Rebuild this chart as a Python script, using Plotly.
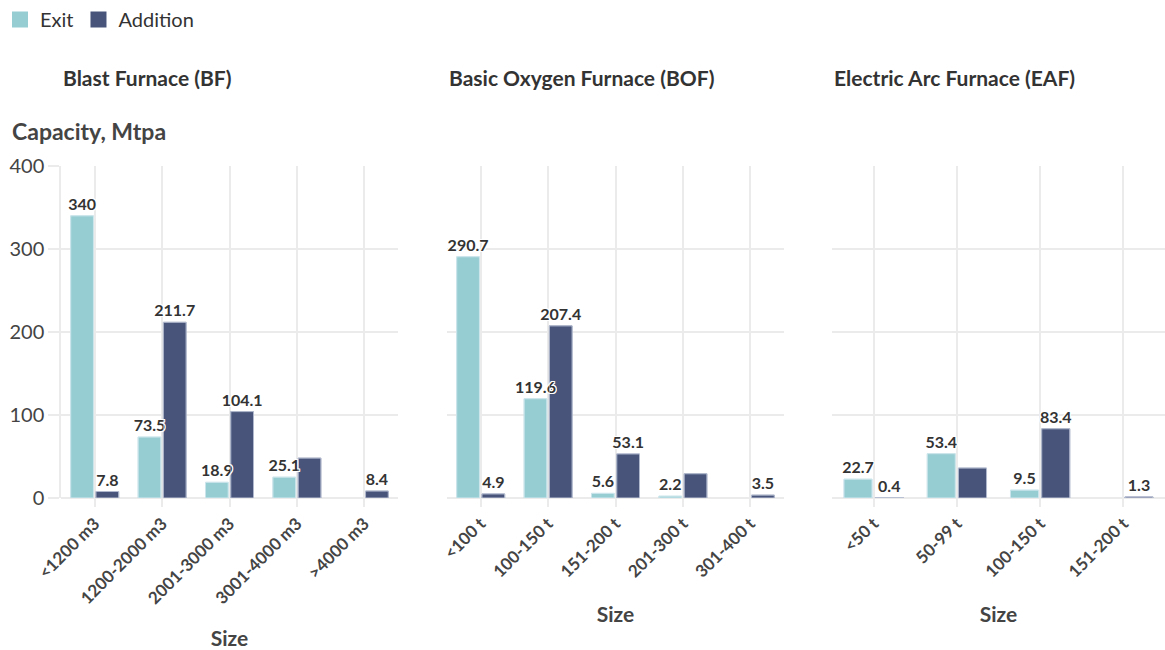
import plotly.graph_objects as go
from plotly.subplots import make_subplots

# ---- data ----
bf_sizes = ["<1200 m3", "1200-2000 m3", "2001-3000 m3", "3001-4000 m3", ">4000 m3"]
bf_exit = [340, 73.5, 18.9, 25.1, None]
bf_add = [7.8, 211.7, 104.1, 48.1, 8.4]
bf_add_label = [True, True, True, False, True]

bof_sizes = ["<100 t", "100-150 t", "151-200 t", "201-300 t", "301-400 t"]
bof_exit = [290.7, 119.6, 5.6, 2.2, None]
bof_add = [4.9, 207.4, 53.1, 29.2, 3.5]
bof_add_label = [True, True, True, False, True]

eaf_sizes = ["<50 t", "50-99 t", "100-150 t", "151-200 t"]
eaf_exit = [22.7, 53.4, 9.5, None]
eaf_add = [0.4, 36.1, 83.4, 1.3]
eaf_add_label = [True, False, True, True]

titles = ["Blast Furnace (BF)", "Basic Oxygen Furnace (BOF)", "Electric Arc Furnace (EAF)"]

EXIT_C = "#96CDD3"
EXIT_EDGE = "#B3DCE0"
ADD_C = "#48547A"
ADD_EDGE = "#7A83A3"
GRID = "#EBEBEB"
TXT = "#333333"
FONT = "Lato, 'Source Sans Pro', sans-serif"
HALO = ("-1px -1px 0 #fff, 1px -1px 0 #fff, -1px 1px 0 #fff, 1px 1px 0 #fff, "
        "0 -1px 0 #fff, 0 1px 0 #fff, -1px 0 0 #fff, 1px 0 0 #fff")


def labels(vals, mask=None):
    out = []
    for i, v in enumerate(vals):
        if v is None or (mask is not None and not mask[i]):
            out.append("")
        else:
            out.append(f"{v:g}")
    return out


fig = make_subplots(rows=1, cols=3, shared_yaxes=False, horizontal_spacing=0.04)

panels = [
    (bf_sizes, bf_exit, bf_add, bf_add_label),
    (bof_sizes, bof_exit, bof_add, bof_add_label),
    (eaf_sizes, eaf_exit, eaf_add, eaf_add_label),
]

label_font = dict(family=FONT, size=16, color=TXT, weight="bold", shadow=HALO)

for i, (cats, ex, ad, admask) in enumerate(panels):
    col = i + 1
    # bars
    fig.add_trace(go.Bar(
        x=cats, y=ex, name="Exit", offsetgroup="exit",
        marker=dict(color=EXIT_C, line=dict(color=EXIT_EDGE, width=1)),
        showlegend=False, hoverinfo="x+y"), row=1, col=col)
    fig.add_trace(go.Bar(
        x=cats, y=ad, name="Addition", offsetgroup="add",
        marker=dict(color=ADD_C, line=dict(color=ADD_EDGE, width=1)),
        showlegend=False, hoverinfo="x+y"), row=1, col=col)
    # value labels, drawn on top of all bars
    fig.add_trace(go.Bar(
        x=cats, y=ex, offsetgroup="exit", marker=dict(color="rgba(0,0,0,0)"),
        text=labels(ex), textposition="outside", cliponaxis=False, constraintext="none",
        textfont=label_font, showlegend=False, hoverinfo="skip"), row=1, col=col)
    fig.add_trace(go.Bar(
        x=cats, y=ad, offsetgroup="add", marker=dict(color="rgba(0,0,0,0)"),
        text=labels(ad, admask), textposition="outside", cliponaxis=False, constraintext="none",
        textfont=label_font, showlegend=False, hoverinfo="skip"), row=1, col=col)

# legend entries
for name, c in [("Exit", EXIT_C), ("Addition", ADD_C)]:
    fig.add_trace(go.Scatter(
        x=[None], y=[None], mode="markers", name=name,
        marker=dict(symbol="square", size=17, color=c)), row=1, col=1)

L, R, T, B = 61, 0, 166, 152
W, H = 1165, 650
pw = W - L - R
domains = [(0, 337 / pw), ((447 - L) / pw, (784 - L) / pw), ((832 - L) / pw, 1.0)]

for i in range(3):
    xa = "xaxis" if i == 0 else f"xaxis{i+1}"
    ya = "yaxis" if i == 0 else f"yaxis{i+1}"
    fig.layout[xa].update(
        domain=list(domains[i]), showgrid=True, gridcolor=GRID, gridwidth=1.5,
        ticks="outside", ticklen=8, tickcolor=GRID, tickwidth=1.5, tickangle=-45,
        tickfont=dict(family=FONT, size=17, color="#444444", weight="bold"),
        title=dict(text="Size", font=dict(family=FONT, size=21, color="#444444", weight="bold"), standoff=26),
        showline=False, zeroline=False)
    fig.layout[ya].update(
        range=[0, 400], dtick=100, showgrid=True, gridcolor=GRID, gridwidth=1.5,
        zeroline=True, zerolinecolor=GRID, zerolinewidth=1.5,
        showticklabels=(i == 0),
        ticks="outside" if i == 0 else "", ticklen=11, tickcolor=GRID, tickwidth=1.5,
        tickfont=dict(family=FONT, size=20, color="#444444"),
        showline=(i == 0), linecolor=GRID, linewidth=1.5)
    fig.add_annotation(
        text=titles[i], xref=f"x{'' if i == 0 else i+1} domain", yref="paper",
        x=0, y=(H - B - 77) / (H - T - B), xanchor="left", yanchor="middle", showarrow=False,
        font=dict(family=FONT, size=21, color="#333333", weight="bold"))

fig.add_annotation(
    text="Capacity, Mtpa", xref="paper", yref="paper",
    x=(10 - L) / pw, y=(H - B - 131) / (H - T - B), xanchor="left", yanchor="middle",
    showarrow=False, font=dict(family=FONT, size=23, color="#444444", weight="bold"))

fig.update_layout(
    width=W, height=H, margin=dict(l=L, r=R, t=T, b=B),
    paper_bgcolor="white", plot_bgcolor="white",
    barmode="group", bargap=0.25, bargroupgap=0.1,
    font=dict(family=FONT, color="#333333"),
    legend=dict(orientation="h", xref="container", yref="container", x=0.0, y=1.0,
                xanchor="left", yanchor="top", font=dict(family=FONT, size=20, color="#333333"),
                itemsizing="trace", itemwidth=30, tracegroupgap=0),
)

fig.write_html("out.html")
